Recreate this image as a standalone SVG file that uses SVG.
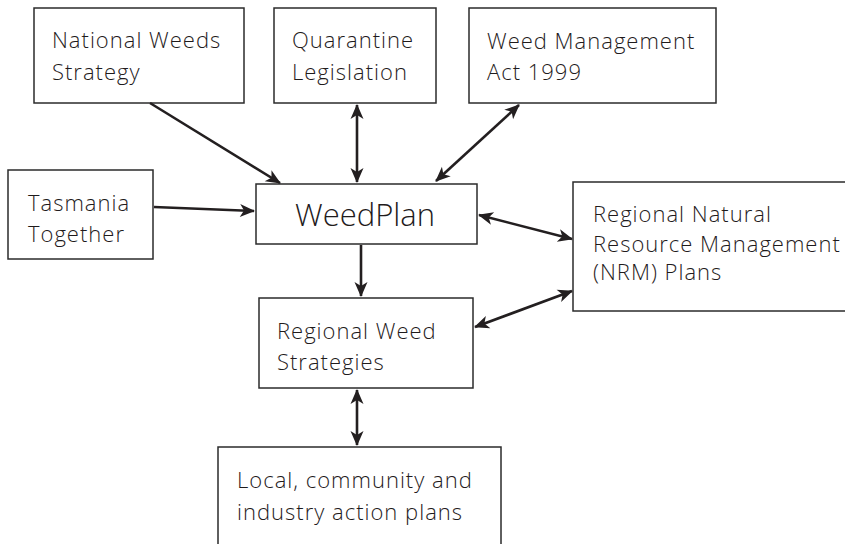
<svg xmlns="http://www.w3.org/2000/svg" width="845" height="544" viewBox="0 0 845 544">
<style>
.box{fill:#fff;stroke:#2b2b2b;stroke-width:1.5}
.t{font-family:"Open Sans",Lato,"Liberation Sans",sans-serif;font-weight:300;font-size:22px;letter-spacing:1px;fill:#1f1b1c}
.big{font-size:31px;letter-spacing:0}
.c{fill:none;stroke:#231f20;stroke-width:2.6}
</style>
<defs>
<marker id="ah" markerUnits="userSpaceOnUse" markerWidth="20" markerHeight="16" viewBox="-16 -8 20 16" refX="0" refY="0" orient="auto-start-reverse">
<path d="M1,0 L-14,-6.5 L-10,0 L-14,6.5 Z" fill="#231f20"/>
</marker>
</defs>
<rect width="845" height="544" fill="#fff"/>
<g id="n-national"><rect class="box" x="34" y="8" width="210" height="95"/><text class="t" x="52" y="48">National Weeds</text><text class="t" x="52" y="80">Strategy</text></g>
<g id="n-quarantine"><rect class="box" x="274" y="8" width="162" height="95"/><text class="t" x="292" y="48">Quarantine</text><text class="t" x="292" y="80">Legislation</text></g>
<g id="n-wma"><rect class="box" x="469" y="8" width="247" height="95"/><text class="t" x="487" y="49">Weed Management</text><text class="t" x="487" y="80">Act 1999</text></g>
<g id="n-tasmania"><rect class="box" x="8" y="170" width="145" height="89"/><text class="t" x="28" y="211">Tasmania</text><text class="t" x="28" y="242">Together</text></g>
<g id="n-weedplan"><rect class="box" x="256" y="184" width="221" height="60"/><text class="t big" x="295" y="226">WeedPlan</text></g>
<g id="n-nrm"><rect class="box" x="573" y="182" width="280" height="129"/><text class="t" x="593" y="222">Regional Natural</text><text class="t" x="593" y="252">Resource Management</text><text class="t" x="593" y="280">(NRM) Plans</text></g>
<g id="n-rws"><rect class="box" x="259" y="298" width="214" height="90"/><text class="t" x="277" y="339">Regional Weed</text><text class="t" x="277" y="370">Strategies</text></g>
<g id="n-local"><rect class="box" x="218" y="447" width="283" height="110"/><text class="t" x="237" y="488">Local, community and</text><text class="t" x="237" y="520">industry action plans</text></g>
<g id="connectors">
<path class="c" d="M150,103 L280,183" marker-end="url(#ah)"/>
<path class="c" d="M357,105 L357,182" marker-start="url(#ah)" marker-end="url(#ah)"/>
<path class="c" d="M519,105 L436,181" marker-start="url(#ah)" marker-end="url(#ah)"/>
<path class="c" d="M154,207 L254,211" marker-end="url(#ah)"/>
<path class="c" d="M479,215 L572,239" marker-start="url(#ah)" marker-end="url(#ah)"/>
<path class="c" d="M572,291 L475,327" marker-start="url(#ah)" marker-end="url(#ah)"/>
<path class="c" d="M361,245 L361,296" marker-end="url(#ah)"/>
<path class="c" d="M357,390 L357,445" marker-start="url(#ah)" marker-end="url(#ah)"/>
</g>
</svg>
